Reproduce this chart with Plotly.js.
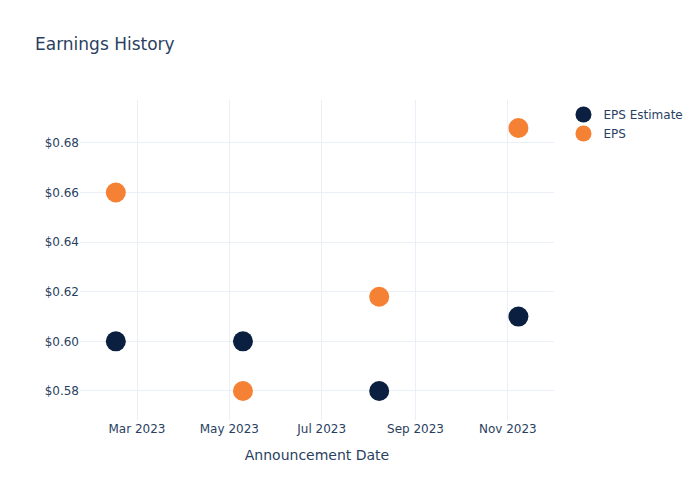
<!DOCTYPE html>
<html>
<head>
<meta charset="utf-8">
<script src="https://cdn.plot.ly/plotly-3.0.1.min.js"></script>
<style>html,body{margin:0;padding:0;background:#fff;}#chart{width:700px;height:500px;}</style>
</head>
<body>
<div id="chart"></div>
<script>
const dates = ["2023-02-15", "2023-05-10", "2023-08-08", "2023-11-08"];
const epsEstimate = [0.60, 0.60, 0.58, 0.61];
const eps = [0.66, 0.58, 0.618, 0.686];

const traces = [
  {x: dates, y: epsEstimate, name: "EPS Estimate", type: "scatter", mode: "markers",
   marker: {color: "#0B1F41", size: 20}},
  {x: dates, y: eps, name: "EPS", type: "scatter", mode: "markers",
   marker: {color: "#F58134", size: 20}}
];

const layout = {
  width: 700, height: 500,
  font: {family: "DejaVu Sans, Verdana, sans-serif", color: "#2a3f5f", size: 12},
  title: {text: "Earnings History", x: 0.05, font: {size: 17}},
  paper_bgcolor: "#fff", plot_bgcolor: "#fff",
  xaxis: {title: {text: "Announcement Date", font: {size: 14}, standoff: 15},
          automargin: true,
          range: ["2023-01-22 08:00", "2023-12-01 12:00"],
          gridcolor: "#EBF0F8", zeroline: false, showline: false},
  yaxis: {tickprefix: "$", tickformat: ".2f", range: [0.5683, 0.6973], dtick: 0.02,
          automargin: true,
          gridcolor: "#EBF0F8", zeroline: false, showline: false},
  showlegend: true
};

Plotly.newPlot("chart", traces, layout, {displayModeBar: false});
</script>
</body>
</html>
